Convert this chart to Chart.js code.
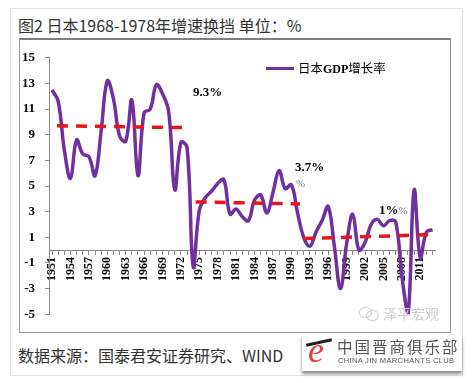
<!DOCTYPE html>
<html>
<head>
<meta charset="utf-8">
<script src="https://cdn.jsdelivr.net/npm/chart.js@4/dist/chart.umd.min.js"></script>
<style>
  body { margin: 0; width: 472px; height: 383px; background: #fff; position: relative; overflow: hidden; font-family: "Noto Sans CJK SC", sans-serif; }
  .card { position: absolute; left: 10px; top: 8px; width: 453px; height: 368px; border: 1px solid #e3e3e3; box-sizing: border-box; }
  .title { position: absolute; left: 18px; top: 13px; font-size: 16px; color: #333; white-space: nowrap; }
  .box { position: absolute; left: 19px; top: 38px; width: 432px; height: 295px; border: 1px solid #9a9a9a; border-top: 2px solid #7f7f7f; box-sizing: border-box; }
  #wrap { position: absolute; left: 20px; top: 40px; width: 430px; height: 292px; }
  .legend { position: absolute; left: 266px; top: 58px; font-size: 12.5px; color: #000; white-space: nowrap; }
  .legend i { display: inline-block; width: 28px; height: 3px; background: #7030A0; vertical-align: middle; margin-right: 4px; position: relative; top: -1px; }
  .legend b { font-family: "Liberation Serif", serif; font-size: 12px; }
  .note { position: absolute; font-family: "Liberation Serif", serif; font-weight: bold; font-size: 13px; color: #000; white-space: nowrap; }
  .ghost { font-weight: normal; color: #7a8090; font-size: 11px; }
  .wm { position: absolute; left: 383px; top: 303px; font-size: 14px; color: #cfcfcf; }
  .wx { position: absolute; border: 1px solid #cfcfcf; border-radius: 50%; }
  .src { position: absolute; left: 18px; top: 343px; font-size: 16px; color: #333; white-space: nowrap; }
  .logo { position: absolute; left: 302px; top: 335px; width: 160px; height: 36px; background: #fff; box-shadow: 0 3px 3px rgba(0,0,0,0.45); }
  .logo .e { position: absolute; left: 6px; top: -6px; font-family: "Liberation Serif", serif; font-style: italic; font-size: 36px; color: #e2403f; }
  .logo .bar { position: absolute; left: 4px; top: 6px; width: 26px; height: 3px; background: #222; transform: rotate(-12deg); }
  .logo .cn { position: absolute; left: 35px; top: 0px; font-size: 15.5px; color: #555; letter-spacing: 2px; white-space: nowrap; }
  .logo .en { position: absolute; left: 36px; top: 21px; font-family: "Liberation Sans", sans-serif; font-size: 7.6px; color: #555; letter-spacing: 0.3px; white-space: nowrap; }
</style>
</head>
<body>
<div class="card"></div>
<div class="title">图2 日本1968-1978年增速换挡 单位：%</div>
<div class="box"></div>
<div id="wrap"><canvas id="chart"></canvas></div>
<div class="legend"><i></i>日本<b>GDP</b>增长率</div>
<div class="note" style="left:193px;top:84px;">9.3%</div>
<div class="note" style="left:295px;top:159px;">3.7%</div>
<div class="note ghost" style="left:296px;top:177px;">%</div>
<div class="note" style="left:379px;top:202px;">1%<span class="ghost">%</span></div>
<div class="wx" style="left:359px;top:307px;width:11px;height:9px;"></div>
<div class="wx" style="left:366px;top:310px;width:11px;height:9px;"></div>
<div class="wm">泽平宏观</div>
<div class="src">数据来源：国泰君安证券研究、WIND</div>
<div class="logo">
  <div class="bar"></div>
  <div class="e">e</div>
  <div class="cn">中国晋商俱乐部</div>
  <div class="en">CHINA JIN MARCHANTS CLUB</div>
</div>
<script>
const years = [];
for (let y = 1951; y <= 2013; y++) years.push(y);

const gdpGrowth = [
  12.5, 11.6, 7.8, 5.6, 8.6, 7.5, 7.3, 5.8, 9.3, 13.2,
  11.8, 8.9, 8.5, 11.7, 5.8, 10.7, 11.0, 12.9, 12.2, 10.8,
  4.7, 8.4, 8.0, -1.3, 3.1, 4.1, 4.6, 5.2, 5.5, 2.8,
  3.2, 2.6, 2.3, 3.9, 4.3, 2.9, 4.5, 6.2, 4.8, 5.1,
  2.9, 1.0, 0.3, 1.4, 2.3, 3.4, 0.3, -3.0, 0.5, 2.8,
  0.0, 0.6, 2.0, 2.4, 1.9, 2.3, 2.2, -2.0, -5.0, 4.7,
  -0.6, 1.4, 1.6
];

const labelYears = [1951, 1954, 1957, 1960, 1963, 1966, 1969, 1972, 1975, 1978, 1981,
  1984, 1987, 1990, 1993, 1996, 1999, 2002, 2005, 2008, 2011];

// red dashed averages, start/end of each period
const trend1Years = [1951.8, 1972.8];
const trend1Values = [9.7, 9.55];
const trend2Years = [1974.4, 1991.4];
const trend2Values = [3.76, 3.6];
const trend3Years = [1991.9, 2012.4];
const trend3Values = [0.9, 1.2];

const axisColor = "#8a8a8a";
const tickFont = { family: '"Liberation Serif", serif', weight: "bold" };

function points(xs, ys) {
  return xs.map((x, i) => ({ x: x, y: ys[i] }));
}

function trendSet(xs, ys) {
  return {
    data: points(xs, ys),
    borderColor: "#e8161b",
    borderWidth: 3.5,
    borderDash: [11, 8],
    borderCapStyle: "butt",
    pointRadius: 0,
    tension: 0,
    order: 0,
  };
}

new Chart(document.getElementById("chart"), {
  type: "line",
  data: {
    datasets: [
      {
        label: "日本GDP增长率",
        data: points(years, gdpGrowth),
        borderColor: "#7030A0",
        borderWidth: 3.5,
        pointRadius: 0,
        tension: 0.4,
        fill: false,
        order: 1,
      },
      trendSet(trend1Years, trend1Values),
      trendSet(trend2Years, trend2Values),
      trendSet(trend3Years, trend3Values),
    ],
  },
  options: {
    responsive: true,
    maintainAspectRatio: false,
    animation: false,
    layout: { padding: { top: 7, bottom: 7, left: 0, right: 9 } },
    plugins: { legend: { display: false }, tooltip: { enabled: false } },
    scales: {
      x: {
        type: "linear",
        min: 1950.5,
        max: 2013.5,
        position: { y: 0 },
        afterBuildTicks: (scale) => {
          scale.ticks = years.map((v) => ({ value: v }));
        },
        grid: { drawOnChartArea: false, drawTicks: true, tickLength: 4, color: axisColor },
        border: { color: axisColor },
        ticks: {
          autoSkip: false,
          minRotation: 90,
          maxRotation: 90,
          padding: 3,
          color: "#000",
          font: { ...tickFont, size: 12 },
          callback: (v) => (labelYears.includes(v) ? String(v) : ""),
        },
      },
      y: {
        min: -5,
        max: 15,
        afterFit: (scale) => {
          scale.width = 29;
        },
        grid: { drawOnChartArea: false, drawTicks: true, tickLength: 4, color: axisColor },
        border: { color: axisColor },
        ticks: { stepSize: 2, padding: 10, color: "#000", font: { ...tickFont, size: 13 } },
      },
    },
  },
});
</script>
</body>
</html>
